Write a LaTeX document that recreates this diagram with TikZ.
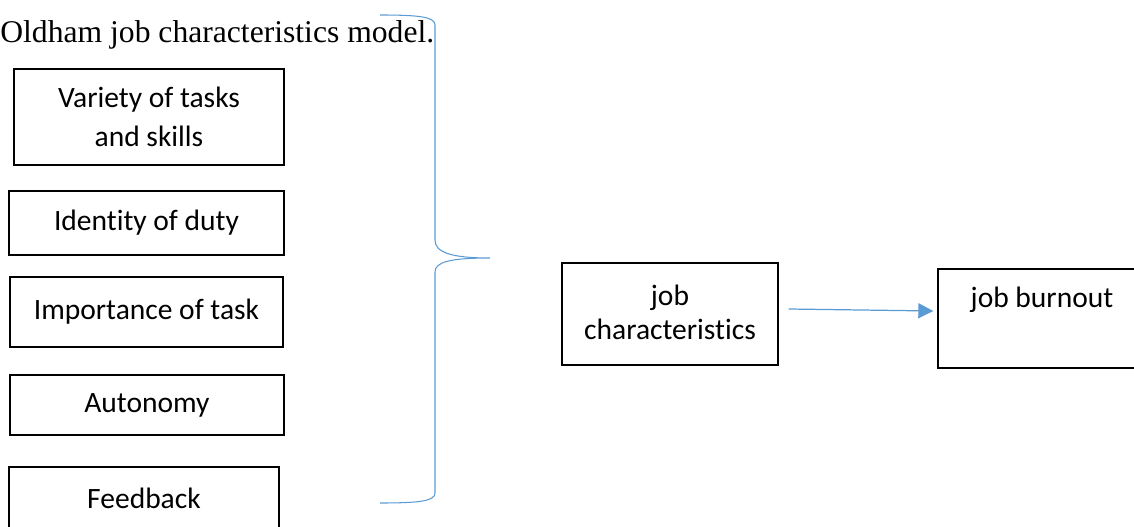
\documentclass[tikz,border=0pt]{standalone}
\usepackage{fontspec}
\setmainfont{Liberation Serif}
\newfontfamily\boxfont[Ligatures=NoCommon]{Carlito}
\usetikzlibrary{arrows.meta}
\definecolor{linkblue}{HTML}{5B9BD5}
\tikzset{
	factor/.style={draw, line width=0.8pt, inner sep=0pt, align=center, font=\boxfont\fontsize{16.8}{22}\selectfont},
	boxlabel/.style={inner sep=0pt, align=center, font=\boxfont\fontsize{16.8}{19.3}\selectfont},
	flow/.style={draw=linkblue, line width=0.7pt, -{Triangle[length=0.3cm,width=0.3cm]}},
}
\begin{document}
\begin{tikzpicture}[x=0.02cm, y=-0.02cm]
	\useasboundingbox (0,0) rectangle (1134,527);
	\clip (0,0) rectangle (1134,527);
	\node[anchor=base west, inner sep=0pt, font=\fontsize{18}{22}\selectfont] (title) at (0,43) {Oldham job characteristics model.};
	\node[factor, minimum width=5.4cm, minimum height=1.92cm] (variety) at (149,117) {Variety of tasks\\and skills};
	\node[factor, minimum width=5.5cm, minimum height=1.28cm] (identity) at (146.5,223) {Identity of duty};
	\node[factor, minimum width=5.46cm, minimum height=1.4cm] (importance) at (146.5,312) {Importance of task};
	\node[factor, minimum width=5.48cm, minimum height=1.2cm] (autonomy) at (147,405) {Autonomy};
	\node[factor, minimum width=5.4cm, minimum height=1.24cm] (feedback) at (144,498) {Feedback};
	% brace
	\draw[linkblue, line width=0.6pt] (380,15) .. controls (420,15) and (435,17) .. (435,25) -- (435,240)
		.. controls (435,252) and (450,258) .. (490,258) .. controls (450,258) and (435,262) .. (435,272)
		-- (435,493) .. controls (435,501) and (420,503) .. (380,503);
	\node[factor, minimum width=4.32cm, minimum height=2.04cm] (jobchar) at (670,314) {};
	\node[boxlabel, anchor=north] (jobchartext) at (670,285) {job\\characteristics};
	\node[factor, minimum width=4.16cm, minimum height=1.98cm] (burnout) at (1042,318.5) {};
	\node[boxlabel, anchor=base] (burnouttext) at (1042,308) {job burnout};
	\draw[flow] ([xshift=0.2cm,yshift=0.1cm]jobchar.east) -- ([xshift=-0.08cm,yshift=0.15cm]burnout.west);
\end{tikzpicture}
\end{document}
